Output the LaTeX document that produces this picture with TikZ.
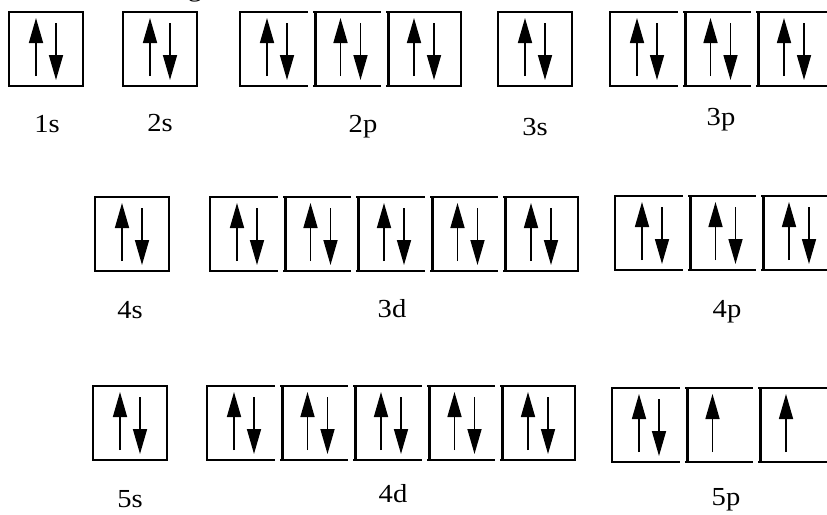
\documentclass[tikz,border=0pt]{standalone}
\usepackage{fontspec}
\setmainfont{Liberation Serif}
\usetikzlibrary{arrows.meta}
\tikzset{
  boxline/.style={line width=1.8pt, line cap=rect},
  bracket/.style={line width=3.4pt},
  spin/.style={line width=1.6pt, -{Triangle[length=25pt,width=14pt]}},
  lbl/.style={anchor=base, font=\fontsize{26}{26}\selectfont, xscale=1.1, inner sep=0pt}
}
% spin arrows
\newcommand\spinpair[2]{%
  \draw[spin] (#1+27,#2+64) -- (#1+27,#2+6);
  \draw[spin] (#1+47,#2+11) -- (#1+47,#2+68);}
\newcommand\spinup[2]{%
  \draw[spin] (#1+27,#2+64) -- (#1+27,#2+6);}
% box kinds
\newcommand\orbsingle[2]{\draw[boxline] (#1,#2) rectangle (#1+74,#2+74);}
\newcommand\orbfirst[2]{\draw[boxline] (#1+67,#2) -- (#1,#2) -- (#1,#2+74) -- (#1+67,#2+74);}
\newcommand\orbmid[2]{%
  \draw[boxline] (#1,#2) -- (#1+67,#2) (#1,#2+74) -- (#1+67,#2+74);
  \draw[bracket] (#1+1.7,#2) -- (#1+1.7,#2+74);}
\newcommand\orblast[2]{%
  \draw[boxline] (#1,#2) -- (#1+74,#2) -- (#1+74,#2+74) -- (#1,#2+74);
  \draw[bracket] (#1+1.7,#2) -- (#1+1.7,#2+74);}
\begin{document}
\begin{tikzpicture}[x=1pt,y=-1pt]
\useasboundingbox (0,0) rectangle (827,514);
\fill[white] (0,0) rectangle (827,514);

% cropped title remnant
\node[lbl] (title) at (195,-4) {g};

% ---------- row 1 ----------
\orbsingle{9}{12}   \spinpair{9}{12}
\orbsingle{123}{12} \spinpair{123}{12}
\orbfirst{240}{12}  \spinpair{240}{12}
\orbmid{313.5}{12}  \spinpair{313.5}{12}
\orblast{387}{12}   \spinpair{387}{12}
\orbsingle{498}{12} \spinpair{498}{12}
\orbfirst{610}{12}  \spinpair{610}{12}
\orbmid{683.5}{12}  \spinpair{683.5}{12}
\orblast{757}{12}   \spinpair{757}{12}

\node[lbl] (l1s) at (47,132) {1s};
\node[lbl] (l2s) at (160,131) {2s};
\node[lbl] (l2p) at (363,132) {2p};
\node[lbl] (l3s) at (535,135) {3s};
\node[lbl] (l3p) at (721,125) {3p};

% ---------- row 2 ----------
\orbsingle{95}{197} \spinpair{95}{197}
\orbfirst{210}{197} \spinpair{210}{197}
\orbmid{283.5}{197} \spinpair{283.5}{197}
\orbmid{357}{197}   \spinpair{357}{197}
\orbmid{430.5}{197} \spinpair{430.5}{197}
\orblast{504}{197}  \spinpair{504}{197}
\orbfirst{615}{196} \spinpair{615}{196}
\orbmid{688.5}{196} \spinpair{688.5}{196}
\orblast{762}{196}  \spinpair{762}{196}

\node[lbl] (l4s) at (130,318) {4s};
\node[lbl] (l3d) at (392,317) {3d};
\node[lbl] (l4p) at (727,317) {4p};

% ---------- row 3 ----------
\orbsingle{93}{386} \spinpair{93}{386}
\orbfirst{207}{386} \spinpair{207}{386}
\orbmid{280.5}{386} \spinpair{280.5}{386}
\orbmid{354}{386}   \spinpair{354}{386}
\orbmid{427.5}{386} \spinpair{427.5}{386}
\orblast{501}{386}  \spinpair{501}{386}
\orbfirst{612}{388} \spinpair{612}{388}
\orbmid{685.5}{388} \spinup{685.5}{388}
\orblast{759}{388}  \spinup{759}{388}

\node[lbl] (l5s) at (130,507) {5s};
\node[lbl] (l4d) at (393,502) {4d};
\node[lbl] (l5p) at (726,505) {5p};
\end{tikzpicture}
\end{document}
